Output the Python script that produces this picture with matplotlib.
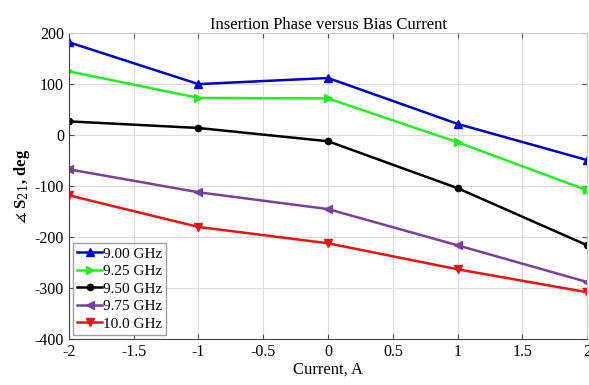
import numpy as np
import matplotlib.pyplot as plt

plt.rcParams['font.family'] = ['Liberation Serif', 'DejaVu Serif', 'DejaVu Sans']
plt.rcParams['axes.unicode_minus'] = False
plt.rcParams['mathtext.fontset'] = 'dejavuserif'

current = [-2, -1, 0, 1, 2]
phase_900 = [182, 100, 112, 22, -49]
phase_925 = [125, 73, 72, -14, -108]
phase_950 = [27, 14, -12, -104, -216]
phase_975 = [-67, -112, -145, -216, -288]
phase_1000 = [-118, -180, -212, -263, -308]

labels = ["9.00 GHz", "9.25 GHz", "9.50 GHz", "9.75 GHz", "10.0 GHz"]
colors = ["#0000cc", "#22ee22", "black", "#7b3f9e", "#ee1111"]
markers = ["^", ">", "o", "<", "v"]
series = [phase_900, phase_925, phase_950, phase_975, phase_1000]

fig = plt.figure(figsize=(5.89, 3.85), dpi=100)
ax = fig.add_axes([0.117, 0.119, 0.88, 0.795])

for s, lab, c, m in zip(series, labels, colors, markers):
    ax.plot(current, s, color=c, marker=m, markersize=6 if m != "o" else 4.5,
            linewidth=1.8, label=lab)

ax.set_xlim(-2, 2)
ax.set_ylim(-400, 200)
ax.set_xticks(np.arange(-2, 2.01, 0.5))
ax.set_xticklabels(["-2", "-1.5", "-1", "-0.5", "0", "0.5", "1", "1.5", "2"])
ax.set_yticks(np.arange(-400, 201, 100))
ax.grid(color="#dddddd", linewidth=0.8)
ax.tick_params(direction="in", top=True, right=True, labelsize=11.5, color="#555555")
for sp in ax.spines.values():
    sp.set_color("#cccccc")
ax.spines["bottom"].set_color("#444444")
ax.spines["left"].set_color("#444444")

ax.set_title("Insertion Phase versus Bias Current", fontsize=12, pad=3)
ax.set_xlabel("Current, A", fontsize=12, labelpad=1)
ax.set_ylabel(r"$\measuredangle$ S$_{21}$, deg", fontsize=12, fontweight="bold", labelpad=2)

leg = ax.legend(loc="lower left", fontsize=11, handlelength=1.6, handletextpad=0.1,
                borderpad=0.25, labelspacing=0.25, fancybox=False, edgecolor="#888888",
                borderaxespad=0.3)

plt.savefig("out.png")
